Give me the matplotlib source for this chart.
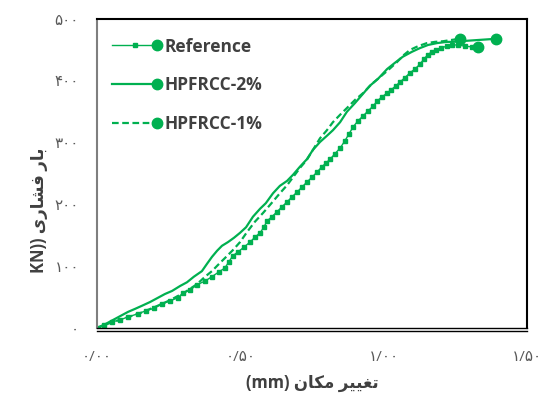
import matplotlib
matplotlib.use("Agg")
import matplotlib.pyplot as plt
import matplotlib.transforms as mtransforms
from matplotlib.lines import Line2D
from matplotlib.legend_handler import HandlerBase

# Load-displacement curves: displacement (mm), compressive load (kN)
ref_x = [0.000, 0.024, 0.052, 0.080, 0.108, 0.143, 0.171, 0.199, 0.227, 0.255,
         0.283, 0.300, 0.324, 0.349, 0.377, 0.401, 0.426, 0.446, 0.460, 0.474,
         0.492, 0.513, 0.534, 0.551, 0.569, 0.582, 0.593, 0.610, 0.628, 0.645,
         0.663, 0.680, 0.698, 0.715, 0.732, 0.750, 0.767, 0.785, 0.799, 0.813,
         0.830, 0.848, 0.865, 0.879, 0.893, 0.910, 0.928, 0.945, 0.963, 0.977,
         0.994, 1.012, 1.025, 1.043, 1.057, 1.074, 1.092, 1.109, 1.127, 1.140,
         1.154, 1.168, 1.182, 1.199, 1.220, 1.238, 1.259, 1.283, 1.307, 1.329]
ref_y = [0, 5, 10, 13, 18, 23, 28, 32, 39, 44,
         49, 57, 61, 70, 76, 83, 91, 97, 107, 117,
         123, 131, 139, 147, 154, 163, 173, 180, 188, 196,
         204, 212, 220, 228, 236, 244, 252, 261, 267, 273,
         282, 291, 303, 314, 325, 335, 343, 351, 359, 367,
         374, 380, 385, 392, 398, 405, 413, 419, 427, 435,
         442, 447, 450, 453, 456, 458, 458, 456, 455, 455]

hp2_x = [0.000, 0.028, 0.056, 0.080, 0.108, 0.133, 0.157, 0.185, 0.213, 0.237,
         0.262, 0.290, 0.314, 0.338, 0.366, 0.384, 0.401, 0.419, 0.436, 0.457,
         0.478, 0.499, 0.520, 0.544, 0.569, 0.589, 0.614, 0.638, 0.663, 0.684,
         0.708, 0.732, 0.753, 0.778, 0.802, 0.823, 0.848, 0.872, 0.900, 0.928,
         0.952, 0.980, 1.012, 1.039, 1.067, 1.099, 1.127, 1.155, 1.186, 1.221,
         1.242, 1.266, 1.392]
hp2_y = [0, 6, 13, 19, 26, 31, 36, 42, 49, 55,
         60, 68, 74, 83, 92, 104, 115, 125, 133, 139,
         146, 154, 163, 180, 193, 202, 218, 230, 238, 248,
         261, 273, 288, 301, 311, 320, 333, 350, 364, 379,
         392, 403, 419, 429, 439, 447, 453, 458, 461, 463,
         463, 464, 468]

hp1_x = [0.000, 0.045, 0.098, 0.150, 0.202, 0.255, 0.307, 0.349, 0.377, 0.401,
         0.422, 0.446, 0.474, 0.499, 0.523, 0.551, 0.579, 0.607, 0.638, 0.663,
         0.684, 0.708, 0.732, 0.753, 0.778, 0.802, 0.823, 0.848, 0.872, 0.900,
         0.928, 0.959, 0.987, 1.015, 1.046, 1.071, 1.092, 1.120, 1.151, 1.179,
         1.207, 1.235, 1.266]
hp1_y = [0, 8, 16, 24, 34, 45, 58, 71, 83, 92,
         102, 113, 126, 139, 155, 172, 186, 201, 218, 231,
         244, 259, 272, 288, 307, 320, 333, 345, 356, 369,
         380, 395, 406, 417, 430, 442, 450, 456, 461, 463,
         464, 466, 468]

series_names = ["Reference", "HPFRCC-2%", "HPFRCC-1%"]
x_ticks = [0.0, 0.5, 1.0, 1.5]
x_tick_labels = ["۰/۰۰", "۰/۵۰", "۱/۰۰", "۱/۵۰"]
y_ticks = [0, 100, 200, 300, 400, 500]
y_tick_labels = ["۰", "۱۰۰", "۲۰۰", "۳۰۰", "۴۰۰", "۵۰۰"]

GREEN = "#00B050"
TEXT = "#404040"
TICK = "#595959"
DOT_MS = 7.5

# Arabic presentation forms: (isolated, final, initial, medial); None = no forward join
FORMS = {
    "ا": ("\uFE8D", "\uFE8E", None, None),
    "ب": ("\uFE8F", "\uFE90", "\uFE91", "\uFE92"),
    "ت": ("\uFE95", "\uFE96", "\uFE97", "\uFE98"),
    "ر": ("\uFEAD", "\uFEAE", None, None),
    "ش": ("\uFEB5", "\uFEB6", "\uFEB7", "\uFEB8"),
    "غ": ("\uFECD", "\uFECE", "\uFECF", "\uFED0"),
    "ف": ("\uFED1", "\uFED2", "\uFED3", "\uFED4"),
    "م": ("\uFEE1", "\uFEE2", "\uFEE3", "\uFEE4"),
    "ن": ("\uFEE5", "\uFEE6", "\uFEE7", "\uFEE8"),
    "ک": ("\uFB8E", "\uFB8F", "\uFB90", "\uFB91"),
    "ی": ("\uFBFC", "\uFBFD", "\uFBFE", "\uFBFF"),
}


def shape_word(word):
    glyphs = []
    for i, ch in enumerate(word):
        forms = FORMS[ch]
        joins_prev = i > 0 and FORMS[word[i - 1]][2] is not None
        joins_next = i < len(word) - 1 and forms[2] is not None
        if joins_prev and joins_next:
            glyphs.append(forms[3])
        elif joins_prev:
            glyphs.append(forms[1])
        elif joins_next:
            glyphs.append(forms[2])
        else:
            glyphs.append(forms[0])
    return "".join(reversed(glyphs))


def rtl(phrase):
    return " ".join(shape_word(w) for w in reversed(phrase.split()))


class LineWithEndDot(HandlerBase):
    """Legend key: the series line, its own marker in the middle, a dot at the end."""

    def create_artists(self, legend, orig_handle, xdescent, ydescent,
                       width, height, fontsize, trans):
        y = height / 2 - ydescent
        x0, x1 = -xdescent, width - xdescent
        line = Line2D([x0, x1], [y, y])
        line.update_from(orig_handle)
        line.set_marker("None")
        arts = [line]
        if orig_handle.get_marker() not in (None, "None", "", " "):
            mid = Line2D([(x0 + x1) / 2], [y], ls="none",
                         marker=orig_handle.get_marker(),
                         ms=orig_handle.get_markersize(), color=GREEN)
            arts.append(mid)
        arts.append(Line2D([x1], [y], ls="none", marker="o", ms=DOT_MS,
                           color=GREEN))
        for a in arts:
            a.set_transform(trans)
        return arts


plt.rcParams["font.family"] = ["Open Sans", "DejaVu Sans"]

fig = plt.figure(figsize=(5.43, 4.0), dpi=100)
ax = fig.add_axes([0.1786, 0.18, 0.7919, 0.7725])

l_ref, = ax.plot(ref_x, ref_y, color=GREEN, lw=1.0, marker="s", ms=3.4,
                 mec=GREEN, mfc=GREEN)
ax.plot(ref_x[-1], ref_y[-1], "o", color=GREEN, ms=DOT_MS)
l_hp2, = ax.plot(hp2_x, hp2_y, color=GREEN, lw=1.6)
ax.plot(hp2_x[-1], hp2_y[-1], "o", color=GREEN, ms=DOT_MS)
l_hp1, = ax.plot(hp1_x, hp1_y, color=GREEN, lw=1.6, ls=(0, (3, 1.6)))
ax.plot(hp1_x[-1], hp1_y[-1], "o", color=GREEN, ms=DOT_MS)

ax.set_xlim(0, 1.5)
ax.set_ylim(0, 500)
ax.set_xticks(x_ticks)
ax.set_xticklabels(x_tick_labels)
ax.set_yticks(y_ticks)
ax.set_yticklabels(y_tick_labels)
ax.tick_params(axis="both", length=0, labelsize=11, labelcolor=TICK)
ax.tick_params(axis="x", pad=16)
ax.tick_params(axis="y", pad=13)

for side in ("top", "right"):
    ax.spines[side].set_color("black")
    ax.spines[side].set_linewidth(1.5)
ax.spines["bottom"].set_color("black")
ax.spines["bottom"].set_linewidth(1.0)
ax.spines["left"].set_color("#7f7f7f")
ax.spines["left"].set_linewidth(1.5)

# plot-area border drawn just below the horizontal axis line
border_tf = mtransforms.offset_copy(ax.transAxes, fig=fig, x=0, y=-1.8,
                                    units="points")
ax.add_line(Line2D([0, 1], [0, 0], color="black", lw=1.0,
                   transform=border_tf, clip_on=False))

ax.set_xlabel("(mm) " + rtl("تغییر مکان"), fontsize=12, fontweight="bold",
              color=TEXT)
ax.xaxis.set_label_coords(0.5, -0.15)
ax.set_ylabel("KN)) " + rtl("بار فشاری"), fontsize=12, fontweight="bold",
              color=TEXT)
ax.yaxis.set_label_coords(-0.115, 0.38)

leg = ax.legend([l_ref, l_hp2, l_hp1], series_names,
                handler_map={Line2D: LineWithEndDot()},
                loc="upper left", bbox_to_anchor=(0.035, 0.94),
                frameon=False, borderpad=0, borderaxespad=0,
                handlelength=2.6, handletextpad=0.4, labelspacing=1.2,
                prop={"family": ["Open Sans", "DejaVu Sans"], "weight": "bold",
                      "size": 12.5})
for t in leg.get_texts():
    t.set_color(TEXT)

fig.savefig("out.png", dpi=100)
